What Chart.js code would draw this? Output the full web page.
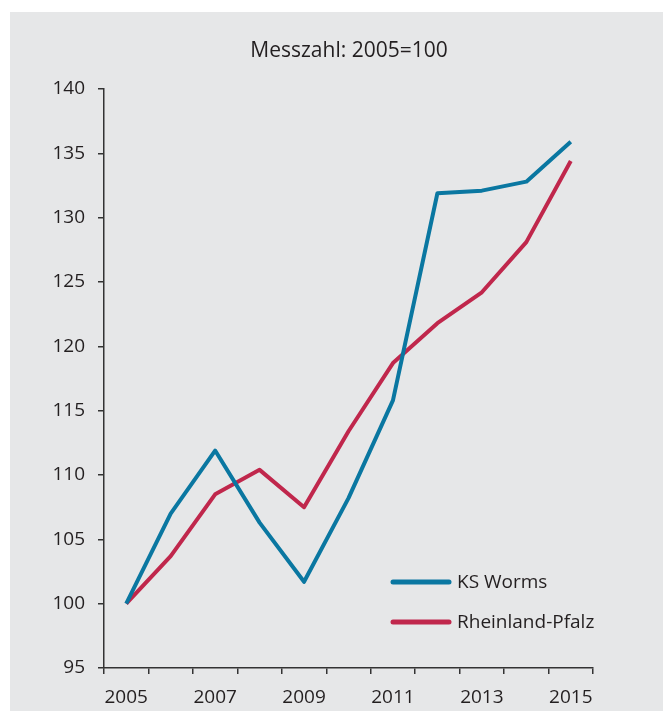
<!DOCTYPE html>
<html>
<head>
<meta charset="utf-8">
<script src="https://cdn.jsdelivr.net/npm/chart.js@4"></script>
<style>
  body { margin: 0; background: #fff; }
  #panel { position: absolute; left: 10px; top: 12px; width: 653px; height: 699px; background: #e6e7e8; }
</style>
</head>
<body>
<div id="panel"><canvas id="chart" width="653" height="699"></canvas></div>
<script>
const years = ['2005', '2006', '2007', '2008', '2009', '2010', '2011', '2012', '2013', '2014', '2015'];
const worms = [100, 107.0, 111.9, 106.3, 101.7, 108.2, 115.8, 131.9, 132.1, 132.8, 135.9];
const rlp = [100, 103.7, 108.5, 110.4, 107.5, 113.4, 118.7, 121.8, 124.2, 128.1, 134.4];
const seriesNames = ['KS Worms', 'Rheinland-Pfalz'];
const seriesColors = ['#0a77a1', '#c0274c'];
const titleText = 'Messzahl: 2005=100';

const fontFamily = '"Open Sans", "Noto Sans", sans-serif';

// title centred on the whole panel, legend inside the plot (bottom right)
const extras = {
    id: 'extras',
    afterDraw(chart) {
        const ctx = chart.ctx;
        const area = chart.chartArea;
        ctx.save();
        ctx.fillStyle = '#231f20';
        ctx.font = '21px ' + fontFamily;
        ctx.textAlign = 'center';
        ctx.textBaseline = 'middle';
        ctx.fillText(titleText, 339, 39);

        const x0 = area.right - 200;
        ctx.font = '19px ' + fontFamily;
        ctx.textAlign = 'left';
        chart.data.datasets.forEach((ds, i) => {
            const y = area.bottom - 86 + i * 40;
            ctx.strokeStyle = ds.borderColor;
            ctx.lineWidth = 5;
            ctx.lineCap = 'round';
            ctx.beginPath();
            ctx.moveTo(x0, y);
            ctx.lineTo(x0 + 56, y);
            ctx.stroke();
            ctx.fillStyle = '#231f20';
            ctx.fillText(ds.label, x0 + 64, y + 1);
        });
        ctx.restore();
    }
};

new Chart(document.getElementById('chart'), {
    type: 'line',
    data: {
        labels: years,
        datasets: [
            { label: seriesNames[0], data: worms, borderColor: seriesColors[0], borderWidth: 4, pointRadius: 0, tension: 0, borderJoinStyle: 'round' },
            { label: seriesNames[1], data: rlp, borderColor: seriesColors[1], borderWidth: 4, pointRadius: 0, tension: 0, borderJoinStyle: 'round' }
        ]
    },
    options: {
        responsive: false,
        animation: false,
        layout: { padding: { top: 77, right: 70, bottom: 0, left: 0 } },
        plugins: {
            legend: { display: false },
            tooltip: { enabled: false },
            title: { display: false }
        },
        scales: {
            x: {
                offset: true,
                grid: { offset: true, drawOnChartArea: false, drawTicks: true, tickLength: 6, color: '#333', lineWidth: 1.5 },
                border: { color: '#333', width: 1.5 },
                ticks: {
                    autoSkip: false,
                    maxRotation: 0,
                    padding: 12,
                    color: '#231f20',
                    font: { family: fontFamily, size: 19 },
                    callback: function (val, index) { return index % 2 === 0 ? this.getLabelForValue(val) : ''; }
                },
                afterFit: function (scale) { scale.height = 43; }
            },
            y: {
                min: 95,
                max: 140,
                grid: { drawOnChartArea: false, drawTicks: true, tickLength: 6, color: '#333', lineWidth: 1.5 },
                border: { color: '#333', width: 1.5 },
                ticks: { stepSize: 5, padding: 13, color: '#231f20', font: { family: fontFamily, size: 19 } },
                afterFit: function (scale) { scale.width = 94; }
            }
        }
    },
    plugins: [extras]
});
</script>
</body>
</html>
